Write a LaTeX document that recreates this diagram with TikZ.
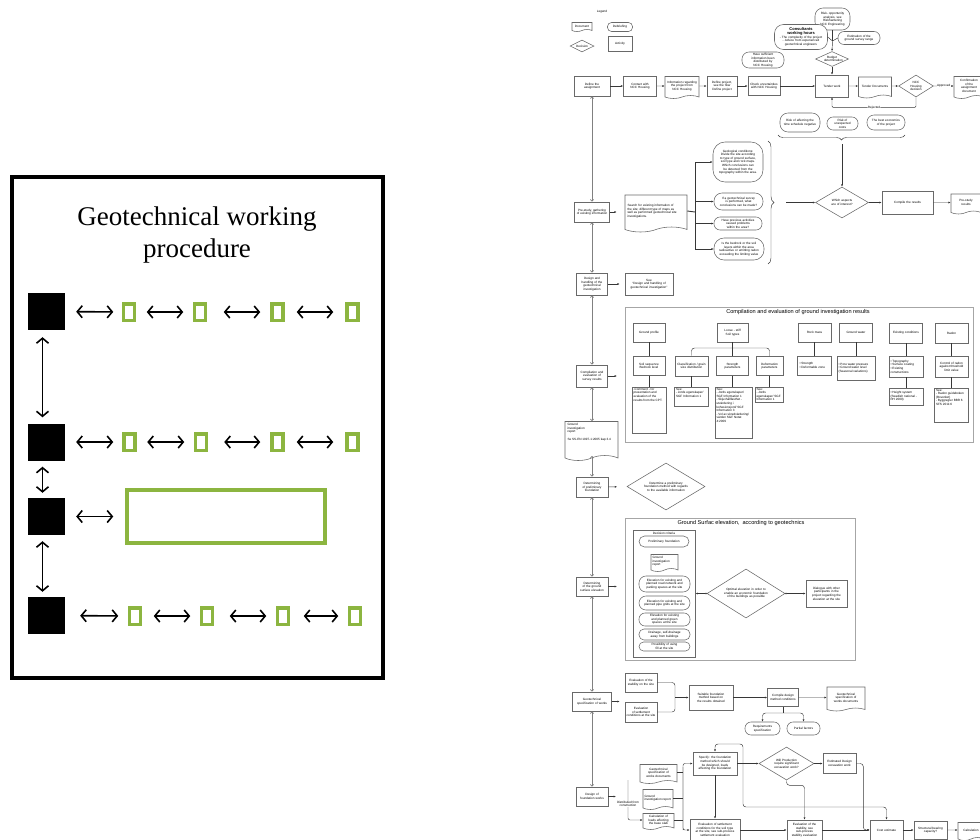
\documentclass[tikz,border=0pt]{standalone}
\usepackage{fontspec}
\setmainfont{Liberation Sans}
\newfontfamily\tnrfont{Liberation Serif}
\usetikzlibrary{arrows.meta,shapes.geometric,shapes.symbols,shapes.misc,decorations.pathreplacing}
\definecolor{lgreen}{RGB}{140,181,64}
\definecolor{bxgray}{RGB}{105,105,105}
\definecolor{lngray}{RGB}{55,55,55}
\newcommand\mytiny{\fontsize{3.1}{3.6}\selectfont\hyphenpenalty=10000\exhyphenpenalty=10000\tolerance=9999}
\newcommand\grpfont{\fontsize{5.6}{6.5}\selectfont}
\tikzset{
  bxbase/.style={font=\mytiny, align=center, inner sep=0.6pt, draw=bxgray, line width=0.55pt, fill=white},
  act/.style={bxbase, rectangle},
  doc/.style={bxbase, tape, tape bend top=none, tape bend height=3pt},
  deb/.style={bxbase, rectangle, rounded corners=4pt},
  dec/.style={bxbase, diamond, aspect=2, inner sep=0pt},
  grp/.style={draw=gray!70, line width=1.1pt, inner sep=0pt, anchor=north west},
  arr/.style={-{Latex[length=2.4pt,width=2pt]}, draw=lngray, line width=0.45pt},
  arrtwo/.style={{Latex[length=2.4pt,width=2pt]}-{Latex[length=2.4pt,width=2pt]}, draw=lngray, line width=0.45pt},
  dotarr/.style={{Circle[length=1.6pt]}-{Latex[length=2.4pt,width=2pt]}, draw=lngray, line width=0.45pt},
  ln/.style={draw=lngray, line width=0.45pt},
  vl/.style={{Straight Barb[length=1.8pt,width=3.2pt]}-{Straight Barb[length=1.8pt,width=3.2pt]}, draw=gray, line width=0.7pt},
  bigarr/.style={{Straight Barb[length=5pt,width=12pt]}-{Straight Barb[length=5pt,width=12pt]}, line width=1.6pt},
  sq/.style={fill=black, minimum size=37pt, inner sep=0pt},
  gsm/.style={draw=lgreen, line width=3.5pt, fill=white, minimum width=11pt, minimum height=16.5pt, inner sep=0pt},
}
\begin{document}
\begin{tikzpicture}[x=1pt,y=-1pt]
\useasboundingbox (0,0) rectangle (980,839);
\clip (0,0) rectangle (980,839);

% ================= LEFT PANEL =================
\draw[line width=4.5pt] (12,177) rectangle (383,678);
\node[font=\tnrfont\fontsize{27}{32}\selectfont, align=center] (title) at (197,235) {Geotechnical working\\procedure};

\node[sq] (s1) at (46.5,311.5) {};
\node[sq] (s2) at (46.5,442) {};
\node[sq] (s3) at (46.5,516.5) {};
\node[sq] (s4) at (46.5,615.5) {};

\node[gsm] (g11) at (129,312) {};
\node[gsm] (g12) at (200,312) {};
\node[gsm] (g13) at (277.5,312) {};
\node[gsm] (g14) at (352.5,312) {};
\node[gsm] (g21) at (129.5,442) {};
\node[gsm] (g22) at (201,442) {};
\node[gsm] (g23) at (277.5,442) {};
\node[gsm] (g24) at (352.5,442) {};
\node[gsm, minimum width=198pt, minimum height=53pt] (g3) at (226,516.5) {};
\node[gsm] (g41) at (135,616) {};
\node[gsm] (g42) at (207,616) {};
\node[gsm] (g43) at (283,616) {};
\node[gsm] (g44) at (355,616) {};

\draw[bigarr, shorten <=11pt, shorten >=8.5pt] (s1) -- (g11);
\draw[bigarr, shorten <=10.5pt, shorten >=9.5pt] (g11) -- (g12);
\draw[bigarr, shorten <=16.5pt, shorten >=10pt] (g12) -- (g13);
\draw[bigarr, shorten <=12pt, shorten >=12pt] (g13) -- (g14);
\draw[bigarr, shorten <=11pt, shorten >=9pt] (s2) -- (g21);
\draw[bigarr, shorten <=10.5pt, shorten >=9.5pt] (g21) -- (g22);
\draw[bigarr, shorten <=16pt, shorten >=10pt] (g22) -- (g23);
\draw[bigarr, shorten <=12pt, shorten >=12pt] (g23) -- (g24);
\draw[bigarr, shorten <=11pt, shorten >=12pt] (s3) -- (g3);
\draw[bigarr, shorten <=15pt, shorten >=9.5pt] (s4) -- (g41);
\draw[bigarr, shorten <=11.5pt, shorten >=9.5pt] (g41) -- (g42);
\draw[bigarr, shorten <=15.5pt, shorten >=9.5pt] (g42) -- (g43);
\draw[bigarr, shorten <=13.5pt, shorten >=9.5pt] (g43) -- (g44);

\draw[bigarr, shorten <=7pt, shorten >=6pt] ([xshift=-4pt]s1.south) -- ([xshift=-4pt]s2.north);
\draw[bigarr, shorten <=6pt, shorten >=5pt] ([xshift=-4pt]s2.south) -- ([xshift=-4pt]s3.north);
\draw[bigarr, shorten <=6pt, shorten >=5pt] ([xshift=-4pt]s3.south) -- ([xshift=-4pt]s4.north);

% ================= RIGHT PANEL =================
% Legend
\node[font=\mytiny] (leg) at (602,12) {Legend};
\node[doc, tape bend height=2pt, minimum width=20, minimum height=9] (ldoc) at (582,26) {Document};
\node[deb, minimum width=25, minimum height=9] (ldeb) at (620,27) {Debriefing};
\node[dec, minimum width=24, minimum height=12] (ldec) at (582,46) {Decision};
\node[act, minimum width=24, minimum height=15] (lact) at (620,44) {Activity};

% top row
\node[act, minimum width=36, minimum height=20, text width=30] (def) at (592,86) {Define the assignment};
\node[act, minimum width=33, minimum height=20, text width=28] (con) at (640,86) {Contact with NCC Housing};
\node[doc, minimum width=34, minimum height=22, text width=31] (inf) at (682,86) {Information regarding the project from NCC Housing};
\node[act, minimum width=30, minimum height=20, text width=27] (dpr) at (722,86) {Define project, see the flow Define project};
\node[act, minimum width=32, minimum height=19, text width=28] (chk) at (764,86) {Check uncertainties with NCC Housing};
\node[deb, rounded corners=7pt, minimum width=42, minimum height=16, text width=32] (hav) at (763,60) {Have sufficient information been distributed by NCC Housing};
\node[deb, rounded corners=8pt, minimum width=35, minimum height=22, text width=30] (rsk) at (832.5,19) {Risk- opportunity analysis, see Riskhantering NCC Engineering};
\node[deb, rounded corners=9pt, minimum width=53, minimum height=25, text width=46] (cns) at (801,37) {{\fontsize{4}{4.6}\selectfont\bfseries Consultants\\working hours}\\- The complexity of the project\\- Advice from experienced geotechnical engineers};
\node[deb, rounded corners=6pt, minimum width=42, minimum height=13, text width=34] (est) at (859,38) {Estimation of the ground survey range};
\node[dec, minimum width=33, minimum height=15, text width=16] (bud) at (832,59) {Budget determination};
\node[act, minimum width=33, minimum height=22, text width=28] (tnd) at (832,86) {Tender work};
\node[doc, minimum width=33, minimum height=21, text width=29] (tdo) at (875,86) {Tender Documents};
\node[dec, minimum width=33, minimum height=22, text width=16] (ncd) at (916,86) {NCC Housing decision};
\node[doc, minimum width=30, minimum height=22, text width=21] (cnf) at (969,86) {Confirmation of the assignment document};

\draw[arr] (def) -- (con);
\draw[arr] (con) -- (inf);
\draw[arr] (inf) -- (dpr);
\draw[arr] (dpr) -- (chk);
\draw[arr] (chk) -- (tnd);
\draw[arr] (tnd) -- (tdo);
\draw[arr] (tdo) -- (ncd);
\draw[arr] (ncd) -- node[fill=white, inner sep=0.4pt, font=\mytiny] (apl) {Approved} (cnf);
\draw[arr, rounded corners=1pt] (ncd.south) -- ++(0,10) -| node[pos=0.25, fill=white, font=\mytiny, inner sep=0.3pt] (rjl) {Rejected} (tnd.south);

\coordinate (jn) at (832.5,41);
\draw[ln] (rsk) -- (jn);
\draw[ln] (cns.east) -- (jn);
\draw[ln] (est.west) -- (jn);
\draw[arr] (jn) -- (bud.north);
\draw[arr] (bud) -- (tnd);

% risk stadiums and brace
\node[deb, rounded corners=8pt, minimum width=40, minimum height=19, text width=33] (rka) at (800,122.5) {Risk of affecting the time schedule negative};
\node[deb, rounded corners=6pt, minimum width=31, minimum height=13, text width=24] (rkb) at (842.5,123.5) {Risk of unexpected costs};
\node[deb, rounded corners=7pt, minimum width=38, minimum height=15, text width=30] (rkc) at (886,122.5) {The best economics of the project};
\draw[ln, decorate, decoration={brace, amplitude=5pt}] (905,135) -- (778,135);
\coordinate (btip) at (842,144);

\node[dec, minimum width=53, minimum height=31, text width=26] (wh) at (842,202.5) {Which aspects are of interest?};
\node[act, minimum width=51, minimum height=23, text width=44] (cmp) at (907.5,202.5) {Compile the results};
\node[doc, minimum width=30, minimum height=20, text width=23] (psr) at (966,202.5) {Pre-study results};
\draw[arr] (btip) -- (wh.north);
\draw[ln, decorate, decoration={brace, amplitude=6pt}] (768,141) -- (768,264);
\coordinate (ltip) at (786,202.5);
\draw[arr] (ltip) -- (wh.west);
\draw[arr] (wh) -- (cmp);
\draw[arr] (cmp) -- (psr);

% pre-study
\node[act, minimum width=35, minimum height=20, text width=31] (pre) at (592,212) {Pre-study, gathering of existing information};
\node[doc, tape bend height=5pt, minimum width=62, minimum height=37, text width=57, align=left] (srch) at (656,211) {Search for existing information of the site; different type of maps as well as performed geotechnical site investigations.\\[6pt]};
\draw[arr, shorten >=8pt] (pre.east) -- (pre.east -| srch.west);
\node[deb, rounded corners=12pt, minimum width=50, minimum height=40, text width=40] (ge1) at (738,162) {Geological conditions:\\Divide the site according to type of ground surface, soil type and rock maps.\\Which conclusions can be detected from the topography within the area.};
\node[deb, rounded corners=8pt, minimum width=49, minimum height=17, text width=38] (ge2) at (738.5,201.5) {If a geotechnical survey is performed, what conclusions can be made?};
\node[deb, rounded corners=6pt, minimum width=48, minimum height=13, text width=38] (ge3) at (738,223.5) {Have previous activities caused problems within the area?};
\node[deb, rounded corners=10pt, minimum width=50, minimum height=22, text width=40] (ge4) at (739,249) {Is the bedrock or the soil layers within the area radioactive or emitting radon exceeding the limiting value};
\coordinate (bar) at (695,212);
\draw[ln, line width=0.9pt] (srch.east) -- (bar);
\draw[arr] (bar) |- (ge1.west);
\draw[arr] (bar) |- (ge2.west);
\draw[arr] (bar) |- (ge3.west);
\draw[arr] (bar) |- (ge4.west);

% design and handling
\node[act, minimum width=31, minimum height=22, text width=28] (dsg) at (592,284) {Design and handling of the geotechnical investigation};
\node[act, minimum width=48, minimum height=22, text width=45] (see) at (649,284) {See\\``Design and handling of geotechnical investigation''};
\draw[arr, shorten >=5pt] (dsg) -- (see);

% compilation
\node[act, minimum width=31, minimum height=22, text width=28] (cmpl) at (592,376) {Compilation and evaluation of survey results};
\node[grp, minimum width=348, minimum height=135] (G1) at (625,307) {};
\node[font=\grpfont] (G1t) at (798,312.5) {Compilation and evaluation of ground investigation results};
\draw[arr, shorten >=8pt] (cmpl.east) -- (cmpl.east -| G1.west);

\node[act, minimum width=32, minimum height=19, text width=28] (gp) at (649,332.5) {Ground profile};
\node[act, minimum width=32, minimum height=19, text width=28] (ss) at (649,366) {Soil sequence\\Bedrock level};
\node[act, minimum width=34, minimum height=46] (cm) at (649,410) {\parbox[c][44pt][t]{31pt}{\raggedright -Comment - for presentation and evaluation of the results from the CPT.}};
\node[act, minimum width=31, minimum height=19, text width=27] (loo) at (732.5,332.5) {Loose - stiff\\Soil types};
\node[act, minimum width=33, minimum height=20, text width=29] (cls) at (691.5,366) {Classification / grain size distribution};
\node[act, minimum width=32, minimum height=19, text width=28] (str) at (732.5,366) {Strength parameters};
\node[act, minimum width=27, minimum height=19, text width=25] (dfp) at (769.5,366) {Deformation parameters};
\node[act, minimum width=34, minimum height=19] (se1) at (691.5,396.5) {\parbox[c][17pt][t]{31pt}{\raggedright See:\\- Jords egenskaper/ SGF Information 1}};
\node[act, minimum width=37, minimum height=51] (se2) at (733.5,412.5) {\parbox[c][49pt][t]{34pt}{\raggedright See:\\- Jords egenskaper/ SGF Information 1\\- Skjuvhållfasthet - utvärdering i kohesionsjord/ SGF Information 3\\- Vol av skredvärdering/ värden SGF Notat 4:2009}};
\node[act, minimum width=28, minimum height=15] (se3) at (769.5,394.5) {\parbox[c][13pt][t]{26pt}{\raggedright See:\\- Jords egenskaper/ SGF Information 1}};
\node[act, minimum width=33, minimum height=19, text width=29] (rck) at (814.5,332.5) {Rock mass};
\node[act, minimum width=34, minimum height=19] (rks) at (814.5,365.5) {\parbox{30pt}{\raggedright • Strength\\• Deformable zone}};
\node[act, minimum width=33, minimum height=19, text width=29] (gw) at (856,332.5) {Ground water};
\node[act, minimum width=38, minimum height=24] (gws) at (856,368) {\parbox{35pt}{\raggedright • Pore water pressure\\• Ground water level (Seasonal variations)}};
\node[act, minimum width=33, minimum height=20, text width=29] (exc) at (906,333) {Existing conditions};
\node[act, minimum width=34, minimum height=21] (exs) at (906,366.5) {\parbox{31pt}{\raggedright • Topography\\• Surface coating\\• Existing constructions}};
\node[act, minimum width=34, minimum height=17] (exh) at (906,396.5) {\parbox{31pt}{\raggedright • Height system (Swedish national - RH 2000)}};
\node[act, minimum width=33, minimum height=20, text width=29] (rad) at (951.5,333) {Radon};
\node[act, minimum width=33, minimum height=21, text width=29] (rdc) at (951.5,366.5) {Control of radon against threshold limit value};
\node[act, minimum width=34, minimum height=34] (rds) at (951.5,405) {\parbox[c][32pt][t]{31pt}{\raggedright See:\\- Radon guideboken (Boverket)\\- Byggregler BBR 6 SFS 2011:6}};

\draw[ln] (gp) -- (ss);
\draw[ln] (ss) -- (cm);
\draw[ln] (cls) -- (se1);
\draw[ln] (str.south) -- (str.south |- se2.north);
\draw[ln] (dfp) -- (se3);
\draw[ln] (rck) -- (rks);
\draw[ln] (gw) -- (gws);
\draw[ln] (exc) -- (exs);
\draw[ln] (exs) -- (exh);
\draw[ln] (rad) -- (rdc);
\draw[ln] (rdc) -- (rds);
\coordinate (lj) at (732.5,348);
\draw[ln] (loo) -- (str);
\draw[ln, rounded corners=3pt] (cls.north) |- (lj) -| (dfp.north);

% ground investigation report
\node[doc, tape bend height=5pt, minimum width=53, minimum height=39] (gir) at (591.5,438.5) {\parbox[c][30pt][t]{48pt}{\raggedright Ground\\investigation\\report\\[4pt]Se SS-EN 1997-1:2005 kap 3.4}};

% preliminary foundation
\node[act, minimum width=32, minimum height=20, text width=28] (dtp) at (592,487) {Determining of preliminary foundation};
\node[dec, minimum width=78, minimum height=47, text width=50] (dtd) at (666,486.5) {Determine a preliminary foundation method with regards to the available information};
\draw[arr, shorten >=10pt] (dtp) -- (dtd);

% ground surface elevation
\node[act, minimum width=32, minimum height=19, text width=28] (dgs) at (592,586.5) {Determining of the ground surface elevation};
\node[grp, minimum width=230, minimum height=142] (G2) at (625,518) {};
\node[font=\grpfont] (G2t) at (741,523.5) {Ground Surfac elevation,\ \ according to geotechnics};
\draw[arr, shorten >=8pt] (dgs.east) -- (dgs.east -| G2.west);
\node[act, minimum width=62, minimum height=127, anchor=north west, inner sep=0pt] (dcr) at (633,530) {};
\node[font=\mytiny, inner sep=0.3pt] (dct) at (664,533) {Decision criteria};
\node[deb, rounded corners=5.5pt, minimum width=50, minimum height=11, text width=44] (pfd) at (664,541.5) {Preliminary foundation};
\node[doc, tape bend height=3pt, minimum width=27, minimum height=17] (gr2) at (664.5,561.5) {\parbox{24pt}{\raggedright Ground investigation report}};
\node[deb, rounded corners=7pt, minimum width=51, minimum height=16, text width=42] (el1) at (664.5,584) {Elevation for existing and planned road network and parking spaces at the site};
\node[deb, rounded corners=7pt, minimum width=51, minimum height=14, text width=42] (el2) at (664.5,603) {Elevation for existing and planned pipe grids at the site};
\node[deb, rounded corners=6pt, minimum width=51, minimum height=13, text width=42] (el3) at (664.5,619.5) {Elevation for existing and planned green spaces at the site};
\node[deb, rounded corners=5pt, minimum width=51, minimum height=11, text width=44] (el4) at (664.5,634.5) {Drainage, self-drainage away from buildings};
\node[deb, rounded corners=4.5pt, minimum width=51, minimum height=9, text width=44] (el5) at (664.5,646.5) {Possibility of using fill at the site};
\node[dec, minimum width=78, minimum height=49, text width=50] (opt) at (746,593.5) {Optimal elevation in order to enable an economic foundation of the buildings as possible};
\node[act, minimum width=41, minimum height=27, text width=37] (dlg) at (826.5,593.5) {Dialogue with other participants in the project regarding the elevation at the site};
\draw[dotarr] (opt.west) -- (opt.west -| dcr.east);
\draw[dotarr] (opt.east) -- (dlg.west);

% geotechnical specification
\node[act, minimum width=39, minimum height=19, text width=35] (gsw) at (592,701.5) {Geotechnical specification of works};
\node[act, minimum width=32, minimum height=19, text width=29] (evst) at (641,682.5) {Evaluation of the stability on the site};
\node[act, minimum width=32, minimum height=20, text width=29] (evse) at (641,712) {Evaluation of settlement conditions at the site};
\draw[arr, shorten >=5pt] (gsw.east) -- (gsw.east -| evst.west);
\node[act, minimum width=44, minimum height=25, text width=40] (sui) at (711,697.5) {Suitable foundation method based on the results obtained};
\coordinate (sj) at (675,697.5);
\draw[ln, rounded corners=3pt] (evst.east) -| (sj);
\draw[ln, rounded corners=3pt] (evse.east) -| (sj);
\draw[arr] (sj) -- (sui.west);
\node[act, minimum width=31, minimum height=18, text width=28] (cdm) at (783,697.5) {Compile design method conditions};
\node[doc, minimum width=38, minimum height=24, text width=34] (gsd) at (846,697.5) {Geotechnical specification of works documents};
\draw[arr] (sui) -- (cdm);
\draw[arr] (cdm) -- (gsd);
\node[deb, rounded corners=6pt, minimum width=35, minimum height=13, text width=30] (rqs) at (762.5,728.5) {Requirements specification};
\node[deb, rounded corners=6pt, minimum width=33, minimum height=13, text width=30] (pfc) at (803.5,728.5) {Partial factors};
\coordinate (cj) at (783,713);
\draw[ln] (cdm.south) -- (cj);
\draw[arr, rounded corners=3pt] (cj) -| (rqs.north);
\draw[arr, rounded corners=3pt] (cj) -| (pfc.north);

% design of foundation works
\node[act, minimum width=32, minimum height=19, text width=28] (dfw) at (592,796.5) {Design of foundation works};
\coordinate (dfwe) at (616,796.5);
\draw[arr] (dfw.east) -- (dfwe);
\node[doc, minimum width=37, minimum height=19, text width=33] (gsd2) at (658.5,772.5) {Geotechnical specification of works documents};
\node[doc, minimum width=30, minimum height=20] (gr3) at (658,798) {\parbox{27pt}{\raggedright Ground investigation report}};
\node[doc, minimum width=31, minimum height=16, text width=28] (clc) at (658.5,820) {Calculation of loads affecting the base slab};
\coordinate (dtop) at (628,780);
\draw[arr, rounded corners=2pt] (dtop) |- (clc.west);
\node[fill=white, font=\mytiny, align=center, inner sep=0.5pt] (dlab) at (628,804) {Distributed from\\construction};
\coordinate (bt) at (683,767);
\coordinate (bb) at (683,828);
\draw[ln] (gsd2.east) -- (gsd2.east -| bt);
\draw[ln] (gr3.east) -- (gr3.east -| bt);
\draw[ln] (clc.east) -- (clc.east -| bt);
\node[act, minimum width=44, minimum height=23, text width=40] (spf) at (715,763.5) {Specify: the foundation method which should be designed, loads affecting the foundation};
\node[act, minimum width=50, minimum height=22, text width=46] (evs) at (715,830) {Evaluation of settlement conditions for the soil type at the site, see sub-process settlement evaluation};
\draw[arr, rounded corners=2pt] (bb) -- (bt) |- (spf.west);
\draw[arr, rounded corners=2pt] (bt) -- (bb) |- (evs.west);
\draw[arr] (spf) -- (evs);
\node[dec, minimum width=55, minimum height=33, text width=30] (wpr) at (786.5,763.5) {Will Production require significant excavation work?};
\node[act, minimum width=33, minimum height=20, text width=29] (edx) at (839.5,763.5) {Estimated Design excavation work};
\node[act, minimum width=35, minimum height=20, text width=32] (evb) at (804.5,830) {Evaluation of the stability, see sub-process stability evaluation};
\node[act, minimum width=33, minimum height=20, text width=29] (cst) at (886.5,830) {Cost estimate};
\node[act, minimum width=33, minimum height=18, text width=29] (sbc) at (930.5,830) {Structural bearing capacity?};
\node[doc, minimum width=26, minimum height=18, text width=21] (cal) at (971,830) {Calculation};
\draw[arr] (spf) -- (wpr);
\draw[arr] (wpr) -- (edx);
\draw[arr] (evs) -- (evb);
\draw[arr] (evb) -- (cst);
\draw[arr] (cst) -- (sbc);
\draw[arr] (sbc) -- (cal);
\draw[arr, rounded corners=3pt] (wpr.south) -- ++(0,5) -| (evb.north);
\draw[arr, rounded corners=3pt] (edx.east) -- ++(7,0) |- (cst.west);
\coordinate (lp1) at (743,807);
\coordinate (lp2) at (743,744);
\draw[arrtwo, rounded corners=3pt] (cst.north) |- (lp1) -- (lp2) -| (spf.north);

% left column vertical connectors
\draw[vl] (def.south) -- (pre.north);
\draw[vl] (pre.south) -- (dsg.north);
\draw[vl] (dsg.south) -- (cmpl.north);
\draw[vl] (cmpl.south) -- (cmpl.south |- gir.north);
\draw[vl] (dtp.north |- gir.south) -- (dtp.north);
\draw[vl] (dtp.south) -- (dgs.north);
\draw[vl] (dgs.south) -- (gsw.north);
\draw[vl] (gsw.south) -- (dfw.north);
\end{tikzpicture}
\end{document}
